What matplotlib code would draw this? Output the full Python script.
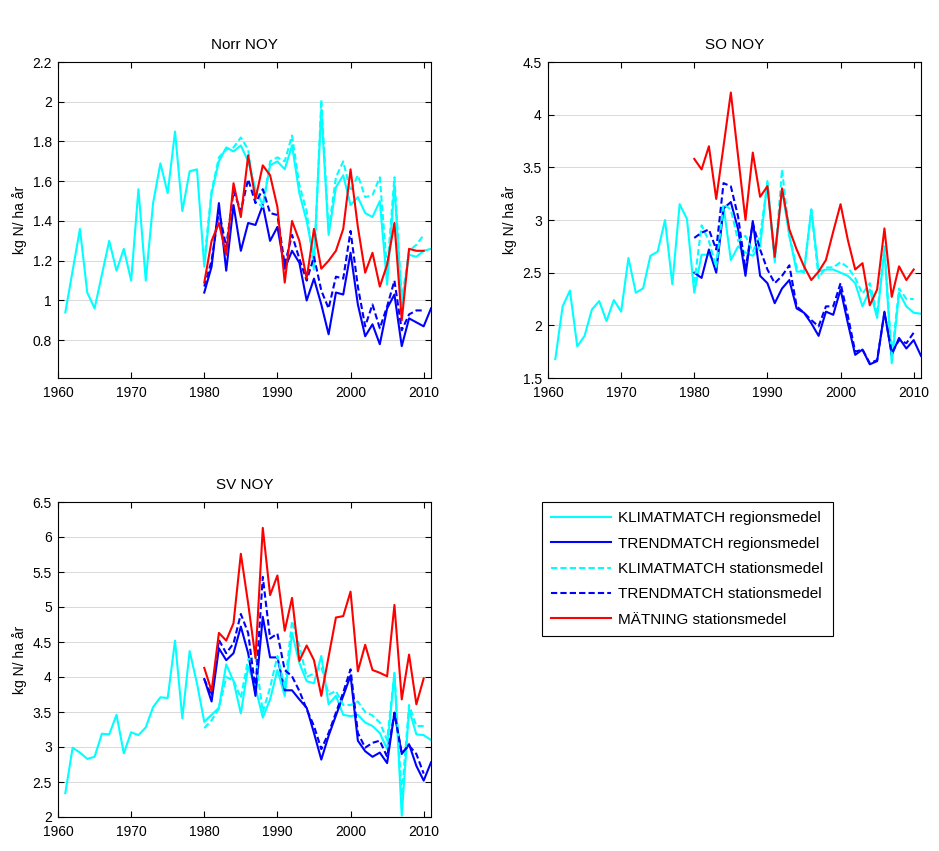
import numpy as np
import matplotlib.pyplot as plt
from matplotlib.ticker import FormatStrFormatter

plt.rcParams['font.family'] = ['Liberation Sans', 'DejaVu Sans']
plt.rcParams['font.size'] = 10

YEARS_LONG = list(range(1961, 2012))   # KLIMATMATCH regionsmedel
YEARS_REG = list(range(1980, 2012))    # TRENDMATCH regionsmedel
YEARS_STN = list(range(1980, 2011))    # stationsmedel series

# ---- Norr NOY
norr_klim_reg = [0.94, 1.15, 1.36, 1.04, 0.96, 1.13, 1.30, 1.15, 1.26, 1.10,
                 1.56, 1.10, 1.49, 1.69, 1.54, 1.85, 1.45, 1.65, 1.66, 1.17,
                 1.54, 1.70, 1.77, 1.75, 1.78, 1.70, 1.56, 1.48, 1.68, 1.70,
                 1.66, 1.78, 1.54, 1.40, 1.21, 1.96, 1.33, 1.57, 1.63, 1.48,
                 1.52, 1.44, 1.42, 1.50, 1.08, 1.58, 0.98, 1.23, 1.22, 1.25,
                 1.26]
norr_trend_reg = [1.04, 1.17, 1.49, 1.15, 1.48, 1.25, 1.39, 1.38, 1.48, 1.30,
                  1.37, 1.16, 1.25, 1.19, 1.00, 1.11, 0.98, 0.83, 1.04, 1.03,
                  1.24, 0.98, 0.82, 0.88, 0.78, 0.96, 1.03, 0.77, 0.91, 0.89,
                  0.87, 0.96]
norr_klim_stn = [1.20, 1.55, 1.72, 1.76, 1.77, 1.82, 1.76, 1.50, 1.47, 1.70,
                 1.72, 1.70, 1.83, 1.58, 1.45, 1.15, 2.01, 1.35, 1.62, 1.70,
                 1.55, 1.63, 1.52, 1.53, 1.62, 1.15, 1.62, 1.00, 1.25, 1.28,
                 1.33]
norr_trend_stn = [1.07, 1.20, 1.45, 1.27, 1.55, 1.45, 1.61, 1.49, 1.56, 1.44,
                  1.43, 1.18, 1.33, 1.21, 1.10, 1.22, 1.05, 0.96, 1.12, 1.11,
                  1.35, 1.07, 0.87, 0.98, 0.86, 0.97, 1.10, 0.85, 0.93, 0.95,
                  0.95]
norr_matn = [1.09, 1.30, 1.39, 1.23, 1.59, 1.42, 1.73, 1.51, 1.68, 1.63,
             1.47, 1.09, 1.40, 1.30, 1.11, 1.36, 1.16, 1.20, 1.25, 1.36,
             1.66, 1.37, 1.14, 1.24, 1.07, 1.18, 1.39, 0.90, 1.26, 1.25,
             1.25]

# ---- SO NOY
so_klim_reg = [1.68, 2.18, 2.33, 1.80, 1.90, 2.15, 2.23, 2.04, 2.24, 2.13,
               2.64, 2.31, 2.35, 2.66, 2.70, 3.00, 2.39, 3.15, 3.01, 2.31,
               2.67, 2.67, 2.58, 3.13, 2.62, 2.75, 2.69, 2.66, 2.75, 3.37,
               2.62, 3.29, 2.85, 2.51, 2.51, 3.10, 2.51, 2.53, 2.53, 2.50,
               2.47, 2.40, 2.18, 2.34, 2.07, 2.72, 1.64, 2.31, 2.18, 2.12,
               2.11]
so_trend_reg = [2.50, 2.45, 2.72, 2.50, 3.11, 3.17, 2.91, 2.47, 2.99, 2.47,
                2.40, 2.21, 2.35, 2.43, 2.16, 2.12, 2.02, 1.90, 2.13, 2.10,
                2.34, 2.02, 1.72, 1.77, 1.63, 1.66, 2.13, 1.72, 1.88, 1.78,
                1.86, 1.71]
so_klim_stn = [2.40, 2.95, 2.80, 2.55, 3.15, 3.10, 2.80, 2.85, 2.70, 2.85,
               3.35, 2.60, 3.48, 2.85, 2.55, 2.50, 3.10, 2.45, 2.55, 2.55,
               2.60, 2.55, 2.45, 2.30, 2.40, 2.10, 2.75, 1.70, 2.35, 2.25,
               2.25]
so_trend_stn = [2.83, 2.88, 2.91, 2.72, 3.35, 3.32, 3.03, 2.53, 2.97, 2.72,
                2.53, 2.40, 2.47, 2.57, 2.18, 2.12, 2.05, 1.99, 2.18, 2.18,
                2.40, 2.09, 1.75, 1.77, 1.64, 1.67, 2.12, 1.74, 1.86, 1.83,
                1.93]
so_matn = [3.58, 3.48, 3.70, 3.20, 3.70, 4.21, 3.60, 3.00, 3.64, 3.22,
           3.32, 2.65, 3.30, 2.91, 2.72, 2.56, 2.43, 2.51, 2.62, 2.89,
           3.15, 2.81, 2.53, 2.59, 2.19, 2.34, 2.92, 2.27, 2.56, 2.43,
           2.53]

# ---- SV NOY
sv_klim_reg = [2.34, 2.99, 2.92, 2.83, 2.86, 3.19, 3.18, 3.46, 2.91, 3.21,
               3.17, 3.28, 3.57, 3.71, 3.70, 4.52, 3.41, 4.37, 3.91, 3.36,
               3.46, 3.56, 4.18, 3.94, 3.48, 4.15, 3.85, 3.42, 3.68, 4.10,
               3.73, 4.63, 4.20, 3.94, 3.91, 4.30, 3.61, 3.73, 3.46, 3.44,
               3.46, 3.35, 3.30, 3.20, 2.97, 4.06, 2.02, 3.54, 3.18, 3.17,
               3.10]
sv_trend_reg = [3.97, 3.65, 4.41, 4.24, 4.34, 4.72, 4.34, 3.73, 4.86, 4.28,
                4.28, 3.81, 3.81, 3.68, 3.56, 3.20, 2.82, 3.16, 3.45, 3.73,
                4.02, 3.09, 2.94, 2.86, 2.92, 2.77, 3.49, 2.90, 3.04, 2.73,
                2.52, 2.78]
sv_klim_stn = [3.27, 3.38, 3.55, 4.00, 3.95, 3.70, 4.25, 4.30, 3.50, 3.85,
               4.30, 3.85, 4.80, 4.45, 4.00, 4.05, 4.15, 3.75, 3.80, 3.60,
               3.60, 3.65, 3.50, 3.45, 3.35, 3.10, 4.05, 2.30, 3.60, 3.30,
               3.30]
sv_trend_stn = [3.97, 3.73, 4.53, 4.34, 4.48, 4.90, 4.63, 3.82, 5.43, 4.55,
                4.62, 4.10, 4.01, 3.80, 3.54, 3.30, 2.97, 3.20, 3.49, 3.78,
                4.11, 3.20, 2.99, 3.06, 3.09, 2.86, 3.49, 2.91, 3.02, 2.90,
                2.62]
sv_matn = [4.13, 3.80, 4.63, 4.52, 4.77, 5.76, 5.05, 4.27, 6.13, 5.17,
           5.45, 4.66, 5.13, 4.23, 4.45, 4.24, 3.73, 4.29, 4.85, 4.87,
           5.22, 4.08, 4.46, 4.10, 4.06, 4.01, 5.03, 3.68, 4.32, 3.61,
           3.98]

LABELS = ['KLIMATMATCH regionsmedel', 'TRENDMATCH regionsmedel',
          'KLIMATMATCH stationsmedel', 'TRENDMATCH stationsmedel',
          'MÄTNING stationsmedel']

W, H = 939, 851
fig = plt.figure(figsize=(W / 100, H / 100), dpi=100)


def panel(rect, title, series, ylim, yticks):
    l, t, r, b = rect
    ax = fig.add_axes([l / W, 1 - b / H, (r - l) / W, (b - t) / H])
    klim_reg, trend_reg, klim_stn, trend_stn, matn = series
    lw = 1.5
    ax.plot(YEARS_LONG, klim_reg, color='#00ffff', lw=lw, label=LABELS[0])
    ax.plot(YEARS_REG, trend_reg, color='#0000ff', lw=lw, label=LABELS[1])
    ax.plot(YEARS_STN, klim_stn, color='#00ffff', lw=lw, ls=(0, (3, 1.5)),
            label=LABELS[2])
    ax.plot(YEARS_STN, trend_stn, color='#0000ff', lw=lw, ls=(0, (3, 1.5)),
            label=LABELS[3])
    ax.plot(YEARS_STN, matn, color='#ff0000', lw=lw, label=LABELS[4])
    ax.set_xlim(1960, 2011)
    ax.set_ylim(*ylim)
    ax.set_xticks(range(1960, 2011, 10))
    ax.set_yticks(yticks)
    ax.yaxis.set_major_formatter(FormatStrFormatter('%g'))
    ax.grid(axis='y', color='#d8d8d8', lw=0.7, ls='-')
    ax.set_axisbelow(True)
    ax.tick_params(direction='in', top=True, right=True, length=4, width=0.8)
    ax.tick_params(axis='x', pad=6)
    ax.tick_params(axis='y', pad=4.5)
    for s in ax.spines.values():
        s.set_linewidth(0.8)
    ax.set_title(title, fontsize=11, pad=9.5)
    ax.set_ylabel('kg N/ ha år', fontsize=10)
    return ax


ax1 = panel((58, 62, 431, 378), 'Norr NOY',
            (norr_klim_reg, norr_trend_reg, norr_klim_stn, norr_trend_stn, norr_matn),
            (0.61, 2.2), np.arange(0.8, 2.21, 0.2))
ax2 = panel((548, 62, 921, 378), 'SO NOY',
            (so_klim_reg, so_trend_reg, so_klim_stn, so_trend_stn, so_matn),
            (1.5, 4.5), np.arange(1.5, 4.51, 0.5))
ax3 = panel((58, 502, 431, 817), 'SV NOY',
            (sv_klim_reg, sv_trend_reg, sv_klim_stn, sv_trend_stn, sv_matn),
            (2.0, 6.5), np.arange(2.0, 6.51, 0.5))

handles, labels = ax3.get_legend_handles_labels()
leg = fig.legend(handles, labels, loc='upper left',
                 bbox_to_anchor=(542 / W, 1 - 502 / H), fontsize=11,
                 frameon=True, fancybox=False, framealpha=1,
                 edgecolor='black', handlelength=3.9, handletextpad=0.45,
                 borderaxespad=0, labelspacing=0.74, borderpad=0.62)
leg.get_frame().set_linewidth(0.8)

fig.savefig('out.png', dpi=100)
